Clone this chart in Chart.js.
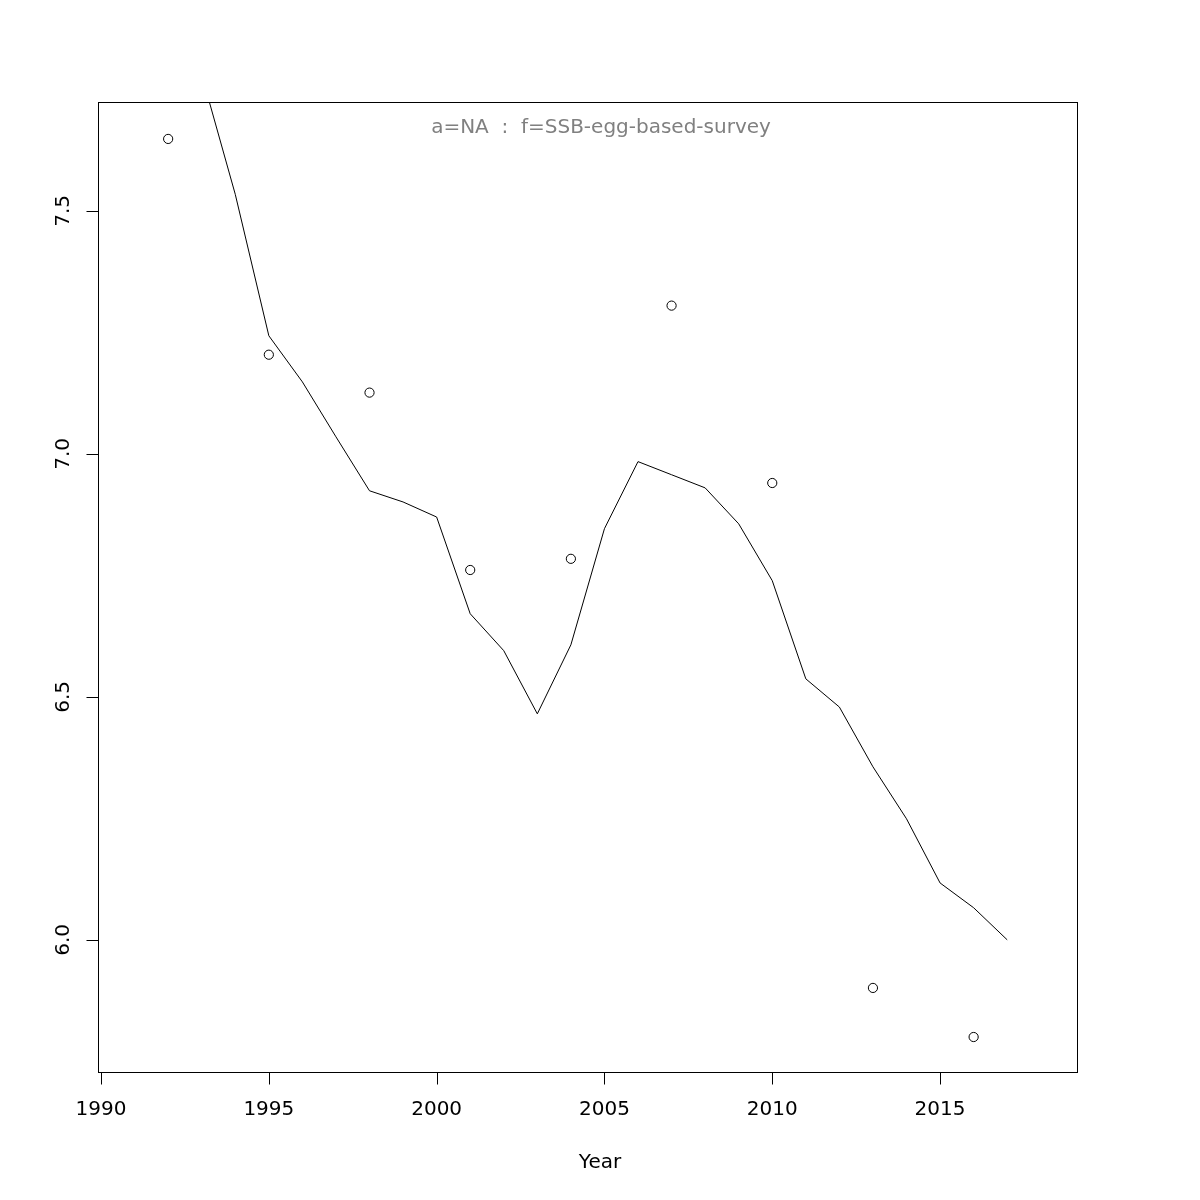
<!DOCTYPE html>
<html>
<head>
<meta charset="utf-8">
<script src="https://cdn.jsdelivr.net/npm/chart.js@4.4.0/dist/chart.umd.min.js"></script>
<style>
    body { margin: 0; background: #ffffff; }
    canvas { display: block; }
</style>
</head>
<body>
<canvas id="chart" width="1200" height="1200"></canvas>
<script>
// fitted line (yearly)
const lineYears = [1993, 1994, 1995, 1996, 1997, 1998, 1999, 2000, 2001, 2002, 2003, 2004, 2005,
    2006, 2007, 2008, 2009, 2010, 2011, 2012, 2013, 2014, 2015, 2016, 2017];
const lineValues = [7.78, 7.534, 7.243, 7.148, 7.035, 6.924, 6.901, 6.870, 6.671, 6.595, 6.465, 6.607, 6.846,
    6.984, 6.957, 6.930, 6.856, 6.739, 6.537, 6.479, 6.356, 6.249, 6.117, 6.066, 6.0];

// survey observations
const obsYears = [1992, 1995, 1998, 2001, 2004, 2007, 2010, 2013, 2016];
const obsValues = [7.648, 7.204, 7.126, 6.761, 6.784, 7.305, 6.940, 5.901, 5.800];

const xTicks = [1990, 1995, 2000, 2005, 2010, 2015];
const yTicks = [6.0, 6.5, 7.0, 7.5];
const yTickLabels = ["6.0", "6.5", "7.0", "7.5"];
const titleText = "a=NA  :  f=SSB-egg-based-survey";
const xTitle = "Year";

const FONT = "DejaVu Sans";

// box, axes and text in R base style
const rAxes = {
    id: "rAxes",
    afterDraw(chart) {
        const { ctx, chartArea: a, scales } = chart;
        const x = scales.x, y = scales.y;
        ctx.save();
        ctx.strokeStyle = "#000000";
        ctx.lineWidth = 1;
        ctx.strokeRect(a.left + 0.5, a.top + 0.5, a.right - a.left, a.bottom - a.top);

        // x axis
        const xb = a.bottom + 0.5;
        ctx.beginPath();
        ctx.moveTo(Math.round(x.getPixelForValue(xTicks[0])) + 0.5, xb);
        ctx.lineTo(Math.round(x.getPixelForValue(xTicks[xTicks.length - 1])) + 0.5, xb);
        xTicks.forEach((t) => {
            const px = Math.round(x.getPixelForValue(t)) + 0.5;
            ctx.moveTo(px, xb);
            ctx.lineTo(px, xb + 12);
        });
        ctx.stroke();
        ctx.fillStyle = "#000000";
        ctx.font = `20px "${FONT}"`;
        ctx.textAlign = "center";
        ctx.textBaseline = "middle";
        xTicks.forEach((t) => {
            ctx.fillText(String(t), x.getPixelForValue(t), 1110);
        });
        ctx.fillText(xTitle, 600, 1163);

        // y axis
        const yl = a.left + 0.5;
        ctx.beginPath();
        ctx.moveTo(yl, Math.round(y.getPixelForValue(yTicks[0])) + 0.5);
        ctx.lineTo(yl, Math.round(y.getPixelForValue(yTicks[yTicks.length - 1])) + 0.5);
        yTicks.forEach((t) => {
            const py = Math.round(y.getPixelForValue(t)) + 0.5;
            ctx.moveTo(yl, py);
            ctx.lineTo(yl - 12, py);
        });
        ctx.stroke();
        yTicks.forEach((t, i) => {
            ctx.save();
            ctx.translate(64, y.getPixelForValue(t));
            ctx.rotate(-Math.PI / 2);
            ctx.fillText(yTickLabels[i], 0, 0);
            ctx.restore();
        });

        // title
        ctx.fillStyle = "#808080";
        ctx.fillText(titleText, 601, 128);
        ctx.restore();
    },
};

new Chart(document.getElementById("chart").getContext("2d"), {
    type: "scatter",
    data: {
        datasets: [
            {
                type: "line",
                data: lineYears.map((yr, i) => ({ x: yr, y: lineValues[i] })),
                borderColor: "#000000",
                borderWidth: 1,
                pointRadius: 0,
                fill: false,
                tension: 0,
            },
            {
                data: obsYears.map((yr, i) => ({ x: yr, y: obsValues[i] })),
                borderColor: "#000000",
                backgroundColor: "rgba(0,0,0,0)",
                borderWidth: 1,
                pointRadius: 4.6,
            },
        ],
    },
    options: {
        responsive: false,
        animation: false,
        layout: { padding: { left: 98, top: 102, right: 123, bottom: 128 } },
        plugins: {
            legend: { display: false },
            tooltip: { enabled: false },
        },
        scales: {
            x: { type: "linear", display: false, min: 1989.91, max: 2019.08 },
            y: { type: "linear", display: false, min: 5.728, max: 7.724 },
        },
    },
    plugins: [rAxes],
});
</script>
</body>
</html>
